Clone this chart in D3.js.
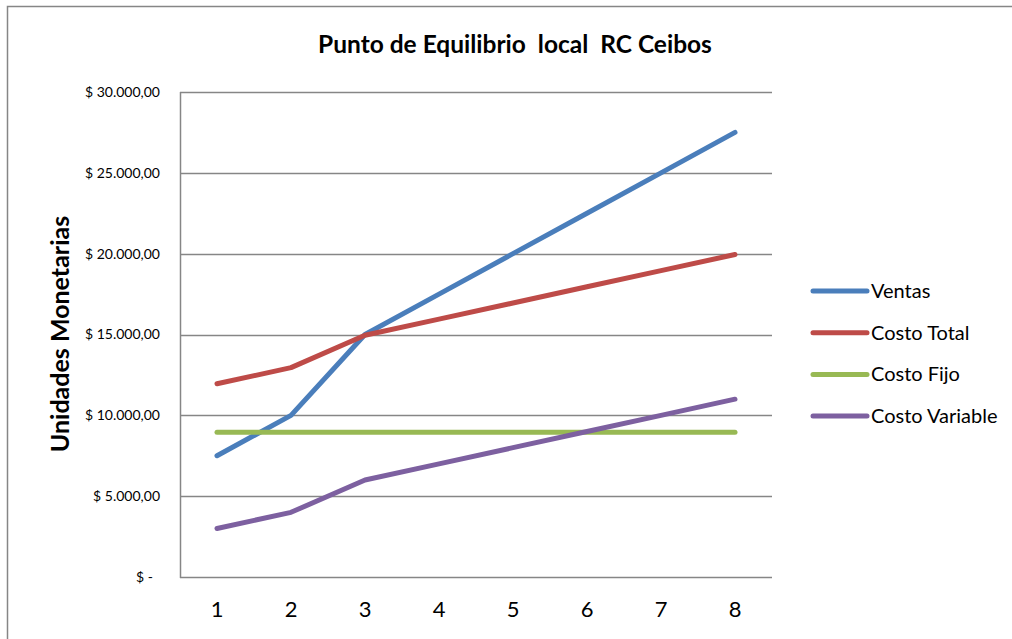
<!DOCTYPE html>
<html><head><meta charset="utf-8">
<script src="https://cdn.jsdelivr.net/npm/d3@7"></script>
<style>body{margin:0;background:#fff}svg{display:block}text{font-family:Lato,"Open Sans",sans-serif;white-space:pre}</style>
</head><body><svg id="c" width="1012" height="639"></svg>
<script>
const categories = [1,2,3,4,5,6,7,8];
const ventas = [7500,10000,15000,17500,20000,22500,25000,27500];
const costoTotal = [11950,12950,14950,15950,16950,17950,18950,19950];
const costoFijo = [8950,8950,8950,8950,8950,8950,8950,8950];
const costoVariable = [3000,4000,6000,7000,8000,9000,10000,11000];
const seriesNames = ["Ventas","Costo Total","Costo Fijo","Costo Variable"];
const seriesColors = ["#4a7ebb","#be4b48","#98b954","#7d60a0"];
const yTicks = [0,5000,10000,15000,20000,25000,30000];
const yTickLabels = ["$ -","$ 5.000,00","$ 10.000,00","$ 15.000,00","$ 20.000,00","$ 25.000,00","$ 30.000,00"];
const title = "Punto de Equilibrio  local  RC Ceibos";
const yTitle = "Unidades Monetarias";

const series = [ventas,costoTotal,costoFijo,costoVariable];
const svg = d3.select("#c");
svg.append("rect").attr("x",7.5).attr("y",6.5).attr("width",1100).attr("height",700)
  .attr("fill","#fff").attr("stroke","#868686").attr("stroke-width",1.5);

const L=180,R=772,T=92,B=577;
const x = d3.scaleBand().domain(categories).range([L,R]);
const y = d3.scaleLinear().domain([0,30000]).range([B,T]);

// gridlines
svg.append("g").selectAll("line").data(yTicks.slice(1)).join("line")
  .attr("x1",L).attr("x2",R).attr("y1",d=>Math.round(y(d))+0.5).attr("y2",d=>Math.round(y(d))+0.5)
  .attr("stroke","#868686").attr("stroke-width",1.3);

// y axis labels
const yAxis = d3.axisLeft(y).tickValues(yTicks).tickSize(0).tickPadding(0)
  .tickFormat((d,i)=>yTickLabels[i]);
const ga = svg.append("g").attr("transform",`translate(${L-20},0)`).call(yAxis);
ga.select(".domain").remove();
ga.selectAll("text").attr("font-size",14).attr("fill","#000").attr("font-family","Lato,sans-serif")
  .attr("dx",(d)=>d===0?-7:0);

// axis lines
svg.append("line").attr("x1",L+0.5).attr("x2",L+0.5).attr("y1",T).attr("y2",B+1).attr("stroke","#868686").attr("stroke-width",1.5);
svg.append("line").attr("x1",L).attr("x2",R).attr("y1",B+0.5).attr("y2",B+0.5).attr("stroke","#868686").attr("stroke-width",1.5);

// x labels
const xAxis = d3.axisBottom(x).tickSize(0).tickPadding(0);
const gx = svg.append("g").attr("transform",`translate(0,${B+24})`).call(xAxis);
gx.select(".domain").remove();
gx.selectAll("text").attr("font-size",22).attr("fill","#000").attr("font-family","Lato,sans-serif");

// lines
const line = d3.line().x((d,i)=>x(categories[i])+x.bandwidth()/2).y(d=>y(d));
series.forEach((s,k)=>{
  svg.append("path").datum(s).attr("d",line).attr("fill","none")
    .attr("stroke",seriesColors[k]).attr("stroke-width",5).attr("stroke-linecap","round").attr("stroke-linejoin","round");
});

// title
svg.append("text").attr("x",515).attr("y",53).attr("text-anchor","middle")
  .attr("font-size",24.5).attr("font-weight","bold").text(title);
svg.append("text").attr("transform","translate(69,334) rotate(-90)").attr("text-anchor","middle")
  .attr("font-size",25).attr("font-weight","bold").text(yTitle);

// legend
const lg = svg.append("g").selectAll("g").data(seriesNames).join("g")
  .attr("transform",(d,i)=>`translate(813,${291+i*41.7})`);
lg.append("line").attr("x1",0).attr("x2",54).attr("stroke",(d,i)=>seriesColors[i]).attr("stroke-width",5).attr("stroke-linecap","round");
lg.append("text").attr("x",58).attr("y",7).attr("font-size",20).text(d=>d);
</script></body></html>
